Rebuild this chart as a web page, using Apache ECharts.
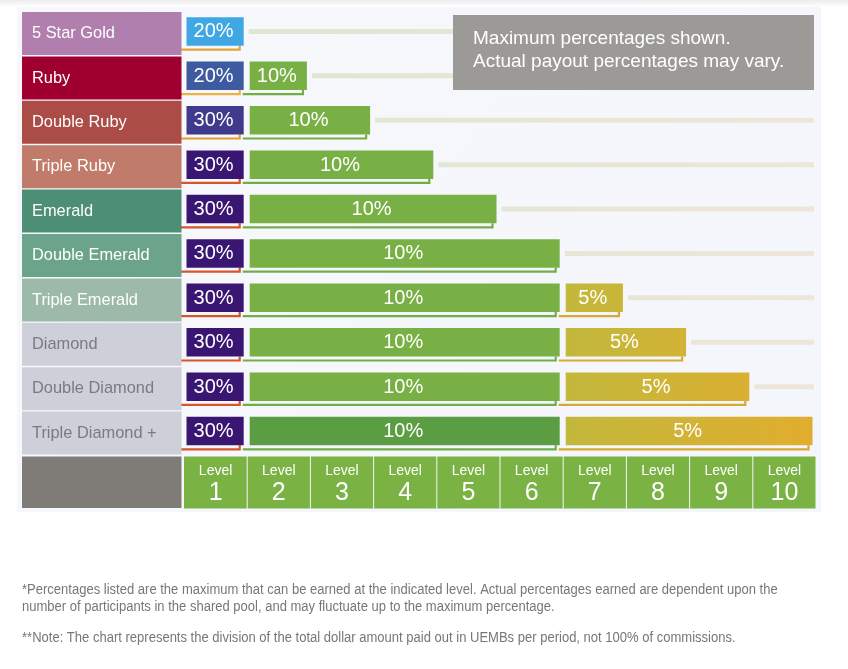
<!DOCTYPE html>
<html><head><meta charset="utf-8">
<script src="https://cdn.jsdelivr.net/npm/echarts@6/dist/echarts.min.js"></script>
<style>html,body{margin:0;padding:0;background:#fff}#c{width:848px;height:669px}</style>
</head><body><div id="c"></div>
<script>
// ---------- data ----------
const tiers = ['5 Star Gold','Ruby','Double Ruby','Triple Ruby','Emerald','Double Emerald','Triple Emerald','Diamond','Double Diamond','Triple Diamond +'];
const levels = ['1','2','3','4','5','6','7','8','9','10'];
const level1Pct = [20,20,30,30,30,30,30,30,30,30];
const tenPct = 10;               // paid on levels 2..tenPctThroughLevel
const tenPctThroughLevel = [0,2,3,4,5,6,6,6,6,6];   // 0 = not paid
const fivePct = 5;               // paid on levels 7..fivePctThroughLevel
const fivePctThroughLevel = [0,0,0,0,0,0,7,8,9,10];
const noteTitle = ['Maximum percentages shown.','Actual payout percentages may vary.'];
const footnotes = [
  '*Percentages listed are the maximum that can be earned at the indicated level. Actual percentages earned are dependent upon the',
  'number of participants in the shared pool, and may fluctuate up to the maximum percentage.',
  '**Note: The chart represents the division of the total dollar amount paid out in UEMBs per period, not 100% of commissions.'
];

// ---------- styles ----------
const FONT = '"Liberation Sans", Helvetica, Arial, sans-serif';
const tierColors = ['#b17fae','#a0002f','#ab4c46','#c17b6a','#4c8f74','#6ca38b','#9cb9a9','#cdd0d8','#cdd0d8','#cdd0d8'];
const tierText = ['#fff','#fff','#fff','#fff','#fff','#fff','#fff','#7a7b7f','#7a7b7f','#7a7b7f'];
const l1Fill = ['#3fa7e4','#3e5aa0','#3f3a8b','#3a1673','#3a1673','#3a1673','#3a1673','#3a1673','#3a1673','#3a1673'];
const l1Line = ['#e3a43a','#e8b446','#e39c30','#d5552d','#d5552d','#d5552d','#d5552d','#d5552d','#d5552d','#d5552d'];

// ---------- build series data ----------
const barData = [];
const trackData = [];
tiers.forEach((t, i) => {
  barData.push([0, 1, i, level1Pct[i], 0]);
  let last = 1;
  if (tenPctThroughLevel[i] >= 2) { barData.push([1, tenPctThroughLevel[i], i, tenPct, 1]); last = tenPctThroughLevel[i]; }
  if (fivePctThroughLevel[i] >= 7) { barData.push([6, fivePctThroughLevel[i], i, fivePct, 2]); last = fivePctThroughLevel[i]; }
  if (last < levels.length) trackData.push([last, levels.length, i]);
});

const chart = echarts.init(document.getElementById('c'), null, {renderer: 'canvas'});

function rowGeom(api, x, row) {
  const p = api.coord([x, row]);
  const bandH = api.size([0, 1])[1];
  const rowTop = p[1] - bandH / 2;
  return {x: p[0], rowTop, bandH, barTop: rowTop + 5.2, barH: 28.5};
}

const option = {
  animation: false,
  grid: {left: 184, right: 32, top: 12, bottom: 213},
  xAxis: {type: 'value', min: 0, max: levels.length, interval: 1, show: false},
  yAxis: {type: 'category', data: tiers, inverse: true, show: false},
  graphic: [
    {type: 'rect', z: -10, shape: {x: 0, y: 0, width: 848, height: 7},
     style: {fill: new echarts.graphic.LinearGradient(0, 0, 0, 1, [{offset: 0, color: '#ececec'}, {offset: 1, color: '#ffffff'}])}},
    {type: 'rect', z: -10, shape: {x: 17, y: 7, width: 804, height: 505},
     style: {fill: new echarts.graphic.LinearGradient(0, 0, 1, 1, [{offset: 0, color: '#f8f8fc'}, {offset: 1, color: '#f3f6fb'}])}},
    {type: 'rect', z: 10, shape: {x: 453, y: 15, width: 361, height: 75}, style: {fill: '#9c9a97'}},
    {type: 'text', z: 11, x: 473, y: 27, style: {text: noteTitle.join('\n'), fill: '#fff', font: '19px ' + FONT, lineHeight: 23}},
    {type: 'text', z: 11, x: 22, y: 582, scaleX: 0.93, style: {text: footnotes[0] + '\n' + footnotes[1], fill: '#777', font: '14px ' + FONT, lineHeight: 17}},
    {type: 'text', z: 11, x: 22, y: 631, scaleX: 0.93, style: {text: footnotes[2], fill: '#777', font: '14px ' + FONT}}
  ],
  series: [
    { // background tracks
      type: 'custom', z: 1, data: trackData, encode: {x: [0, 1], y: 2},
      renderItem: function (params, api) {
        const g = rowGeom(api, api.value(0), api.value(2));
        const xe = api.coord([api.value(1), api.value(2)])[0];
        const x0 = api.coord([0, 0])[0];
        return {type: 'rect', shape: {x: g.x + 1.5, y: g.barTop + g.barH / 2 - 2.5, width: xe - 2 - (g.x + 1.5), height: 5},
          style: {fill: new echarts.graphic.LinearGradient(x0, 0, xe, 0, [{offset: 0, color: '#dde6d2'}, {offset: 1, color: '#eee6d8'}], true)}};
      }
    },
    { // payout bars
      type: 'custom', z: 2, data: barData, encode: {x: [0, 1], y: 2},
      renderItem: function (params, api) {
        const row = api.value(2), kind = api.value(4);
        const g = rowGeom(api, api.value(0), row);
        const xe = api.coord([api.value(1), row])[0];
        const left = g.x + 2.5, right = xe - 3.5;
        const bottom = g.barTop + g.barH;
        let fill, line;
        if (kind === 0) { fill = l1Fill[row]; line = l1Line[row]; }
        else if (kind === 1) { fill = row === tiers.length - 1 ? '#5b9d42' : '#78b045'; line = '#72ae48'; }
        else {
          const a = api.coord([6, row])[0], b = api.coord([levels.length, row])[0];
          fill = new echarts.graphic.LinearGradient(a, 0, b, 0, [{offset: 0, color: '#c2b83c'}, {offset: 1, color: '#e2ad2e'}], true);
          line = '#d8a932';
        }
        return {type: 'group', children: [
          {type: 'polyline', shape: {points: [[left - 7, bottom + 4], [right - 4, bottom + 4], [right - 4, bottom]]},
           style: {stroke: line, lineWidth: 2.2, fill: null}},
          {type: 'rect', shape: {x: left, y: g.barTop, width: right - left, height: g.barH}, style: {fill: fill}},
          {type: 'text', style: {text: api.value(3) + '%', x: (left + right) / 2 - 1.5, y: g.barTop + g.barH / 2 + 0.5,
            align: 'center', verticalAlign: 'middle', fill: '#fff', font: '20px ' + FONT}}
        ]};
      }
    },
    { // tier labels
      type: 'custom', z: 3, data: tiers.map((t, i) => [0, i, t]), encode: {x: 0, y: 1},
      renderItem: function (params, api) {
        const i = params.dataIndex;
        const g = rowGeom(api, 0, i);
        return {type: 'group', children: [
          {type: 'rect', shape: {x: 22, y: g.rowTop, width: g.x - 2.5 - 22, height: g.bandH - 1.4}, style: {fill: tierColors[i]}},
          {type: 'text', style: {text: tiers[i], x: 32, y: g.rowTop + g.bandH / 2 - 0.5, verticalAlign: 'middle', fill: tierText[i], font: '16.4px ' + FONT}}
        ]};
      }
    },
    { // level header
      type: 'custom', z: 3, data: levels.map((l, i) => [i, i + 1, tiers.length - 1, l]), encode: {x: [0, 1], y: 2},
      renderItem: function (params, api) {
        const i = params.dataIndex;
        const g = rowGeom(api, api.value(0), api.value(2));
        const xe = api.coord([api.value(1), api.value(2)])[0];
        const top = g.rowTop + g.bandH + 0.6;
        const ch = [
          {type: 'rect', shape: {x: g.x + (i === 0 ? 0 : 0.5), y: top, width: xe - 0.5 - g.x - (i === 0 ? 0 : 0.5), height: 52}, style: {fill: '#7ab244'}},
          {type: 'text', style: {text: 'Level', x: (g.x + xe) / 2, y: top + 14.5, align: 'center', verticalAlign: 'middle', fill: '#fff', font: '14px ' + FONT}},
          {type: 'text', style: {text: levels[i], x: (g.x + xe) / 2, y: top + 37, align: 'center', verticalAlign: 'middle', fill: '#fff', font: '25px ' + FONT}}
        ];
        if (i === 0) ch.push({type: 'rect', shape: {x: 22, y: top, width: g.x - 2.5 - 22, height: 51.5}, style: {fill: '#7f7c77'}});
        return {type: 'group', children: ch};
      }
    }
  ]
};
chart.setOption(option);
</script>
</body></html>
